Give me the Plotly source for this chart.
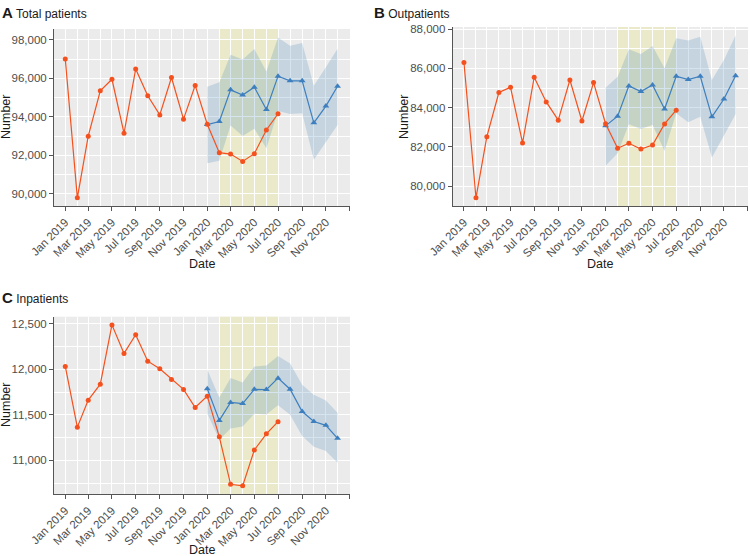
import pandas as pd
import plotly.graph_objects as go
from plotly.subplots import make_subplots

# Observed months (Jan 2019 - Jul 2020) and predicted months (Jan 2020 - Dec 2020)
obs_dates = pd.date_range("2019-01-01", "2020-07-01", freq="MS")
pred_dates = pd.date_range("2020-01-01", "2020-12-01", freq="MS")

# A - Total patients
total_obs = [97000, 89800, 93000, 95350, 95950, 93150, 96480, 95090, 94100, 96040,
             93880, 95630, 93620, 92140, 92070, 91690, 92090, 93320, 94160]
total_pred = [93600, 93760, 95400, 95130, 95540, 94380, 96110, 95870, 95870, 93690, 94560, 95590]
total_upper = [95560, 95800, 97220, 96980, 97520, 96350, 98120, 97690, 97830, 95610, 96570, 97530]
total_lower = [91600, 91720, 93550, 93010, 93380, 92370, 94310, 94150, 94190, 91770, 92690, 93580]

# B - Outpatients
out_obs = [86300, 79400, 82520, 84770, 85040, 82200, 85550, 84290, 83360, 85410,
           83320, 85280, 83180, 81930, 82180, 81890, 82090, 83170, 83870]
out_pred = [83070, 83560, 85110, 84820, 85160, 83930, 85600, 85430, 85600, 83530, 84440, 85630]
out_upper = [85020, 85580, 86980, 86740, 87150, 86010, 87540, 87420, 87620, 85410, 86430, 87680]
out_lower = [81030, 81670, 83150, 82910, 83120, 81790, 83710, 83250, 83540, 81450, 82610, 83660]

# C - Inpatients
in_obs = [12033, 11365, 11662, 11838, 12490, 12176, 12381, 12091, 12007, 11890,
          11780, 11581, 11706, 11258, 10736, 10719, 11114, 11292, 11425]
in_pred = [11788, 11439, 11637, 11624, 11781, 11778, 11904, 11782, 11537, 11427, 11385, 11242]
in_upper = [12000, 11690, 11905, 11855, 12033, 12044, 12148, 12064, 11832, 11722, 11658, 11524]
in_lower = [11515, 11225, 11350, 11372, 11512, 11504, 11606, 11500, 11268, 11150, 11102, 10973]

tick_dates = pd.date_range("2019-01-01", "2021-01-01", freq="2MS")
tick_labels = [d.strftime("%b %Y") for d in tick_dates[:-1]] + [""]

ORANGE = "#F4511E"
BLUE = "#3D7FBF"
BAND = "rgba(70,130,180,0.22)"
FONT = "Liberation Sans, Arial"

fig = make_subplots(rows=2, cols=2)

panels = [
    (1, 1, total_obs, total_pred, total_upper, total_lower),
    (1, 2, out_obs, out_pred, out_upper, out_lower),
    (2, 1, in_obs, in_pred, in_upper, in_lower),
]

for r, c, obs, pred, up, lo in panels:
    # prediction interval
    fig.add_trace(go.Scatter(
        x=list(pred_dates) + list(pred_dates[::-1]),
        y=up + lo[::-1],
        fill="toself", fillcolor=BAND, line=dict(width=0),
        mode="lines", hoverinfo="skip", showlegend=False), row=r, col=c)
    fig.add_trace(go.Scatter(
        x=pred_dates, y=pred, mode="lines+markers",
        line=dict(color=BLUE, width=1.2),
        marker=dict(symbol="triangle-up", size=6, color=BLUE),
        showlegend=False), row=r, col=c)
    fig.add_trace(go.Scatter(
        x=obs_dates, y=obs, mode="lines+markers",
        line=dict(color=ORANGE, width=1.2),
        marker=dict(symbol="circle", size=5, color=ORANGE),
        showlegend=False), row=r, col=c)
    # COVID period highlight
    fig.add_vrect(x0="2020-02-01", x1="2020-07-01",
                  fillcolor="rgba(232,232,120,0.28)", line_width=0,
                  layer="below", row=r, col=c)

axis_font = dict(family=FONT, size=11.5, color="#4D4D4D")
title_font = dict(family=FONT, size=12.5, color="#1A1A1A")

fig.update_xaxes(
    type="date", range=["2018-12-03", "2021-01-02"],
    tickmode="array", tickvals=tick_dates, ticktext=tick_labels,
    tickangle=-45, tickfont=axis_font,
    showgrid=True, gridcolor="white", gridwidth=1,
    minor=dict(dtick="M1", tick0="2019-01-01", showgrid=True,
               gridcolor="white", gridwidth=0.5),
    showline=True, linecolor="#555555", linewidth=1,
    ticks="outside", ticklen=4, tickcolor="#555555",
    zeroline=False, automargin=False,
)
fig.update_yaxes(
    tickformat=",", tickfont=axis_font,
    showgrid=True, gridcolor="white", gridwidth=1,
    showline=True, linecolor="#555555", linewidth=1,
    ticks="outside", ticklen=4, tickcolor="#555555",
    zeroline=False, automargin=False,
)

fig.update_yaxes(range=[89377, 98556], dtick=2000,
                 minor=dict(dtick=1000, showgrid=True, gridcolor="white", gridwidth=0.5),
                 row=1, col=1)
fig.update_yaxes(range=[78980, 88115], dtick=2000,
                 minor=dict(dtick=1000, showgrid=True, gridcolor="white", gridwidth=0.5),
                 row=1, col=2)
fig.update_yaxes(range=[10626, 12580], dtick=500,
                 minor=dict(dtick=250, showgrid=True, gridcolor="white", gridwidth=0.5),
                 row=2, col=1)

W, H = 750, 556
fig.update_layout(
    width=W, height=H,
    margin=dict(l=0, r=0, t=0, b=0),
    paper_bgcolor="white", plot_bgcolor="#EBEBEB",
    font=dict(family=FONT),
    xaxis=dict(domain=[54 / W, 350 / W]),
    yaxis=dict(domain=[1 - 206 / H, 1 - 29 / H]),
    xaxis2=dict(domain=[452.7 / W, 748 / W]),
    yaxis2=dict(domain=[1 - 206 / H, 1 - 27 / H]),
    xaxis3=dict(domain=[54 / W, 350 / W]),
    yaxis3=dict(domain=[1 - 494.3 / H, 1 - 316.7 / H]),
)

# Panel titles
for label, text, x, y in [("A", "Total patients", 0, 2),
                          ("B", "Outpatients", 372 / W, 2),
                          ("C", "Inpatients", 0, 287)]:
    fig.add_annotation(
        text=f"<b><span style='font-size:15px'>{label}</span></b> {text}",
        xref="paper", yref="paper", x=x, y=1 - y / H,
        xanchor="left", yanchor="top", showarrow=False,
        font=dict(family=FONT, size=12, color="#1A1A1A"))

# Axis titles
for x, y in [(202, 264), (600, 264), (202, 550)]:
    fig.add_annotation(text="Date", xref="paper", yref="paper",
                       x=x / W, y=1 - y / H, xanchor="center", yanchor="middle",
                       showarrow=False, font=title_font)
for x, y in [(6, 117), (404, 117), (6, 405)]:
    fig.add_annotation(text="Number", xref="paper", yref="paper", textangle=-90,
                       x=x / W, y=1 - y / H, xanchor="center", yanchor="middle",
                       showarrow=False, font=title_font)

fig.write_html("out.html", config={"displayModeBar": False},
               post_script="document.body.style.margin='0px';")
